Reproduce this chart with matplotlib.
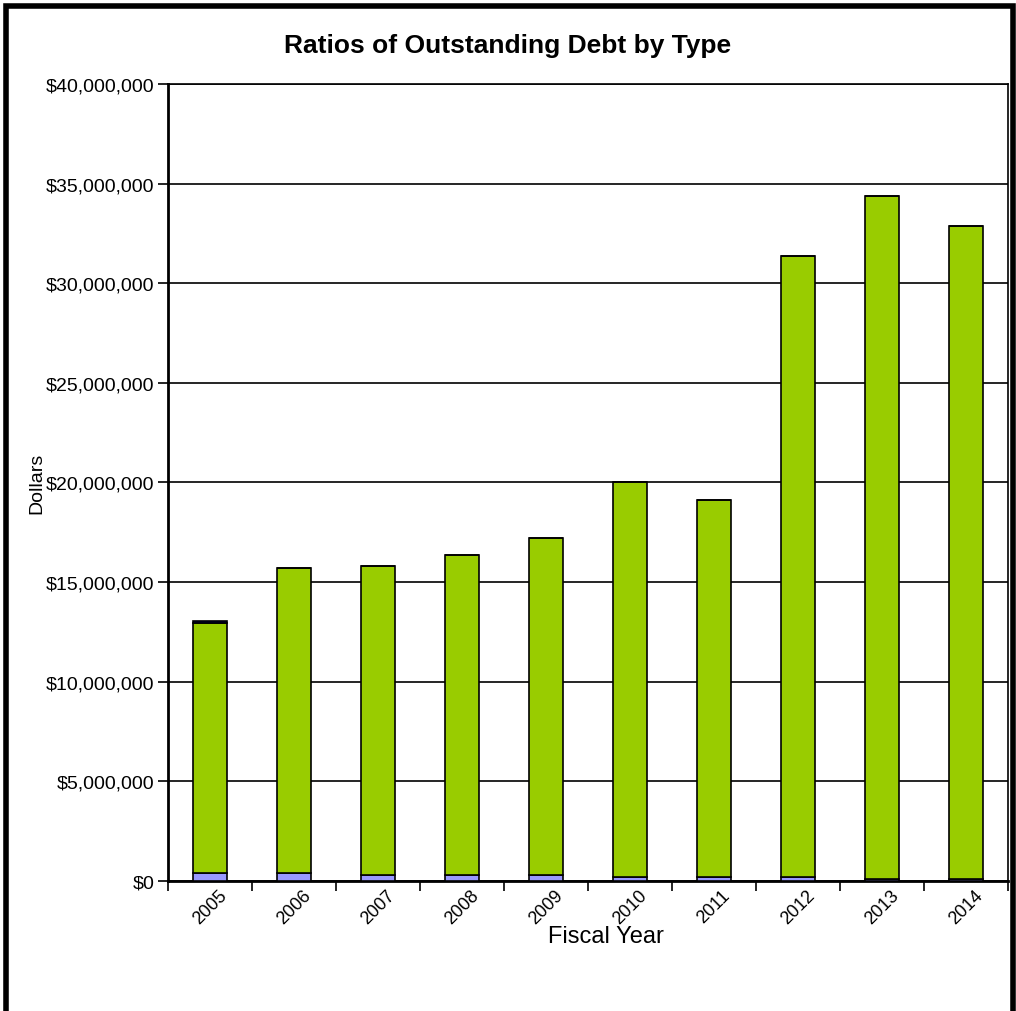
import numpy as np
import matplotlib
matplotlib.use("Agg")
import matplotlib.pyplot as plt
from matplotlib.ticker import FuncFormatter, MultipleLocator
from matplotlib.patches import Rectangle

plt.rcParams['font.family'] = ['Liberation Sans', 'DejaVu Sans']

years = ['2005', '2006', '2007', '2008', '2009', '2010', '2011', '2012', '2013', '2014']
# bottom segment (blue), middle (green), top (dark)
blue_vals = [400000, 400000, 300000, 300000, 300000, 200000, 200000, 200000, 100000, 100000]
green_vals = [12550000, 15310000, 15490000, 16060000, 16900000, 19830000, 18920000, 31170000, 34280000, 32770000]
dark_vals = [120000, 0, 0, 0, 0, 0, 0, 0, 0, 0]

fig = plt.figure(figsize=(10.16, 10.12), dpi=100)
ax = fig.add_axes([0.1654, 0.1285, 0.8266, 0.7875])

x = np.arange(len(years))
w = 0.41
blue = np.array(blue_vals)
green = np.array(green_vals)
dark = np.array(dark_vals)
ax.bar(x, blue, w, color='#9999FF', edgecolor='black', linewidth=1.2, zorder=3)
ax.bar(x, green, w, bottom=blue, color='#99CC00', edgecolor='black', linewidth=1.2, zorder=3)
ax.bar(x, dark, w, bottom=blue + green, color='#000080', edgecolor='black', linewidth=1.2, zorder=3)

ax.set_xlim(-0.5, len(years) - 0.5)
ax.set_ylim(0, 40000000)
ax.yaxis.set_major_locator(MultipleLocator(5000000))
ax.yaxis.set_major_formatter(FuncFormatter(lambda v, p: '${:,.0f}'.format(v)))
ax.grid(axis='y', color='black', linewidth=1.2, zorder=0)

ax.set_xticks(x)
ax.set_xticklabels(years, rotation=45, fontsize=13)
ax.tick_params(axis='x', length=0, pad=4)
ax.set_xticks(np.arange(-0.5, len(years)), minor=True)
ax.tick_params(axis='x', which='minor', length=7, width=1.2, direction='out')
ax.tick_params(axis='y', length=7, width=1.2, direction='out', labelsize=14, pad=3)
for lab in ax.get_xticklabels():
    lab.set_ha('center')
    lab.set_va('top')

for s in ax.spines.values():
    s.set_linewidth(1.2)
ax.spines['left'].set_linewidth(2)
ax.spines['bottom'].set_linewidth(2)

ax.set_xlabel('Fiscal Year', fontsize=17)
ax.xaxis.set_label_coords(0.521, -0.055)
ax.set_ylabel('Dollars', fontsize=14)
ax.yaxis.set_label_coords(-0.146, 0.5)
fig.text(0.5, 0.955, 'Ratios of Outstanding Debt by Type', ha='center', va='center',
         fontsize=19, fontweight='bold')

# outer chart frame
fig.patches.append(Rectangle((0.006, -0.05), 0.991, 1.043, transform=fig.transFigure,
                             fill=False, edgecolor='black', linewidth=4))

fig.savefig('out.png', dpi=100)
